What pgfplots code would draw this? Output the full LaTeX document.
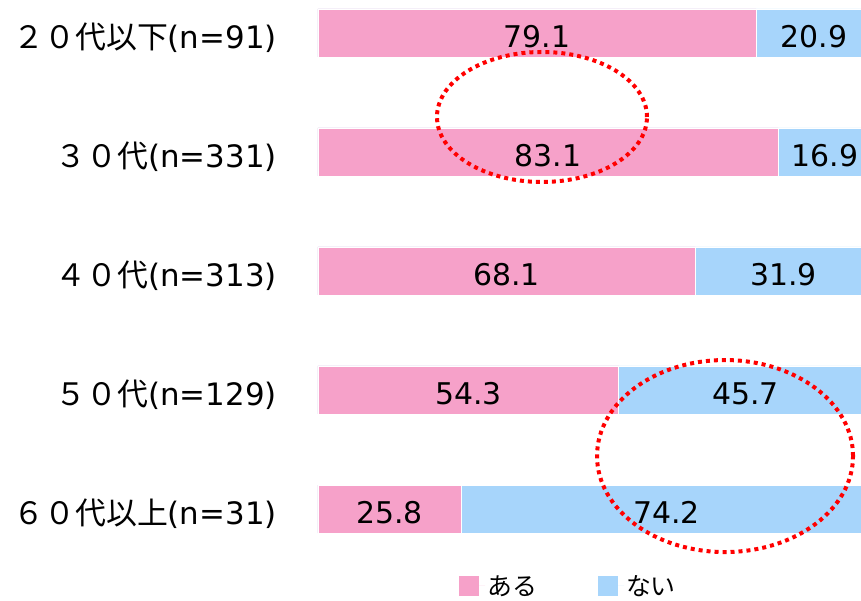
\documentclass[border=0pt]{standalone}
\usepackage{pgfplots}
\pgfplotsset{compat=1.18}
\usepackage{pgfplotstable}
\usepackage{fontspec}
\setmainfont{DejaVu Sans}
\newfontfamily\cjk{Noto Sans CJK JP}
\definecolor{pinkbar}{RGB}{246,161,201}
\definecolor{bluebar}{RGB}{167,213,251}
\pgfplotstableread{
y a b
4 79.1 20.9
3 83.1 16.9
2 68.1 31.9
1 54.3 45.7
0 25.8 74.2
}\data
\begin{document}
\begin{tikzpicture}
\begin{axis}[name=ax,
  scale only axis, width=543bp, height=601bp,
  xmin=0, xmax=98.01, ymin=-0.773, ymax=4.277,
  axis line style={draw=none},
  tick style={draw=none},
  major tick length=0pt,
  xtick=\empty,
  ytick={0,1,2,3,4},
  yticklabels={{{\cjk ６０代以上}(n=31)},{{\cjk ５０代}(n=129)},{{\cjk ４０代}(n=313)},{{\cjk ３０代}(n=331)},{{\cjk ２０代以下}(n=91)}},
  yticklabel style={font=\fontsize{31}{35}\selectfont, anchor=east, inner sep=0pt, xshift=-41bp, yshift=-5bp},
  /pgf/number format/.cd, fixed, fixed zerofill, precision=1, assume math mode=true,
  /pgfplots/.cd,
  legend columns=2,
  legend image code/.code={\fill[#1] (0bp,-10bp) rectangle (20bp,10bp); \path (0bp,0bp) -- (26bp,0bp);},
  legend style={draw=none, fill=none, at={(axis description cs:0.2597,0.025)}, anchor=west,
    font=\fontsize{25}{29}\selectfont, inner sep=0pt,
    /tikz/every even column/.append style={column sep=59bp}},
]
\addplot[xbar, bar width=48bp, bar shift=0pt, fill=bluebar, draw=white, line width=0.8bp, forget plot]
  table[x expr=\thisrow{a}+\thisrow{b}, y=y]{\data};
\addplot[xbar, bar width=48bp, bar shift=0pt, fill=pinkbar, draw=white, line width=0.8bp, forget plot]
  table[x=a, y=y]{\data};
\addplot[draw=none, mark=none, forget plot, nodes near coords, point meta=explicit,
  nodes near coords style={anchor=center, yshift=-3.5bp, font=\fontsize{30}{34}\selectfont, text=black}]
  table[x expr=\thisrow{a}/2, y=y, meta=a]{\data};
\addplot[draw=none, mark=none, forget plot, nodes near coords, point meta=explicit,
  nodes near coords style={anchor=center, yshift=-3.5bp, font=\fontsize{30}{34}\selectfont, text=black}]
  table[x expr=\thisrow{a}+\thisrow{b}/2, y=y, meta=b]{\data};
\addlegendimage{fill=pinkbar, draw=none}
\addlegendentry{\cjk ある}
\addlegendimage{fill=bluebar, draw=none}
\addlegendentry{\cjk ない}
\draw[red, line width=4bp, dash pattern=on 4bp off 4bp] (axis cs:40.43,3.294) ellipse [x radius=105bp, y radius=65bp];
\draw[red, line width=4bp, dash pattern=on 4bp off 4bp] (axis cs:73.47,0.445) ellipse [x radius=128bp, y radius=96bp];
\end{axis}
\pgfresetboundingbox
\path[use as bounding box] ([xshift=-318bp]ax.south west) rectangle (ax.north east);
\end{tikzpicture}
\end{document}
